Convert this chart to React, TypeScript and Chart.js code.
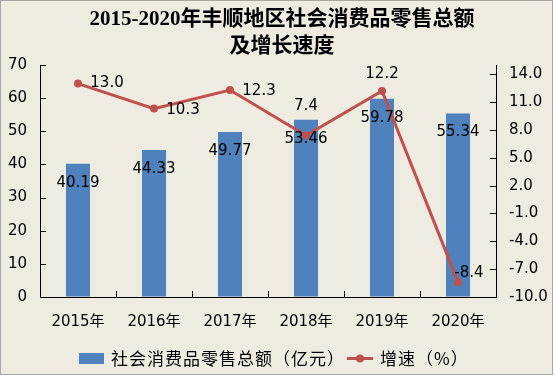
import { useEffect, useRef } from "react";
import { Chart, registerables } from "chart.js";

Chart.register(...registerables);

const categories = ["2015年", "2016年", "2017年", "2018年", "2019年", "2020年"];
const salesValues = [40.19, 44.33, 49.77, 53.46, 59.78, 55.34];
const growthValues = [13.0, 10.3, 12.3, 7.4, 12.2, -8.4];
const leftTicks = [0, 10, 20, 30, 40, 50, 60, 70];
const rightTicks = [-10, -7, -4, -1, 2, 5, 8, 11, 14];
const titleLines = ["2015-2020年丰顺地区社会消费品零售总额", "及增长速度"];
const salesLabel = "社会消费品零售总额（亿元）";
const growthLabel = "增速（%）";

// label placement styles (pixel offsets relative to each point)
const growthLabelOffsets: [number, number][] = [
  [29, 0],
  [29, 1],
  [29, 1],
  [0, -29],
  [0, -17],
  [11, -9],
];
const barLabelDrop = 19;

const BAR_COLOR = "#4F81BD";
const LINE_COLOR = "#C0504D";
const BG = "#EEECE1";
const FONT = "'DejaVu Sans', 'Noto Sans CJK SC', sans-serif";

const decorPlugin = {
  id: "decor",
  beforeDraw(chart: any) {
    const ctx = chart.ctx;
    ctx.save();
    ctx.fillStyle = "#ffffff";
    ctx.fillRect(0, 0, chart.width, chart.height);
    ctx.fillStyle = BG;
    ctx.fillRect(0, 0, 553, 375);
    ctx.strokeStyle = "#A6A6A6";
    ctx.lineWidth = 1;
    ctx.strokeRect(0.5, 0.5, 552, 374);
    ctx.restore();
  },
  afterDraw(chart: any) {
    const ctx = chart.ctx;
    const area = chart.chartArea;
    ctx.save();
    // title
    ctx.fillStyle = "#000";
    ctx.textAlign = "center";
    ctx.textBaseline = "middle";
    ctx.font = "bold 21px 'Liberation Serif', 'Noto Sans CJK SC', serif";
    ctx.fillText(titleLines[0], 282, 20);
    ctx.fillText(titleLines[1], 282, 47);

    // inward tick marks
    ctx.strokeStyle = "#000";
    ctx.lineWidth = 1;
    const yl = chart.scales.y;
    const yr = chart.scales.y1;
    const xs = chart.scales.x;
    ctx.beginPath();
    leftTicks.forEach((v) => {
      const y = Math.round(yl.getPixelForValue(v)) + 0.5;
      ctx.moveTo(area.left, y);
      ctx.lineTo(area.left + 6, y);
    });
    rightTicks.forEach((v) => {
      const y = Math.round(yr.getPixelForValue(v)) + 0.5;
      ctx.moveTo(area.right - 6, y);
      ctx.lineTo(area.right, y);
    });
    for (let i = 1; i < categories.length; i++) {
      const x = Math.round((xs.getPixelForValue(i - 1) + xs.getPixelForValue(i)) / 2) + 0.5;
      ctx.moveTo(x, area.bottom);
      ctx.lineTo(x, area.bottom - 6);
    }
    ctx.stroke();

    // data labels
    ctx.font = `15px ${FONT}`;
    ctx.fillStyle = "#000";
    ctx.textAlign = "center";
    ctx.textBaseline = "middle";
    const barMeta = chart.getDatasetMeta(0);
    barMeta.data.forEach((el: any, i: number) => {
      ctx.fillText(salesValues[i].toFixed(2), el.x, el.y + barLabelDrop);
    });
    const lineMeta = chart.getDatasetMeta(1);
    lineMeta.data.forEach((el: any, i: number) => {
      const [dx, dy] = growthLabelOffsets[i];
      ctx.fillText(growthValues[i].toFixed(1), el.x + dx, el.y + dy);
    });

    // legend
    const ly = 358.5;
    ctx.fillStyle = BAR_COLOR;
    ctx.fillRect(79, 353, 25, 11);
    ctx.font = `17px 'Noto Sans CJK SC', sans-serif`;
    try {
      (ctx as any).letterSpacing = "1px";
    } catch (e) {}
    ctx.fillStyle = "#000";
    ctx.textAlign = "left";
    ctx.fillText(salesLabel, 111, ly);
    ctx.strokeStyle = LINE_COLOR;
    ctx.lineWidth = 3;
    ctx.beginPath();
    ctx.moveTo(347, ly);
    ctx.lineTo(373, ly);
    ctx.stroke();
    ctx.fillStyle = LINE_COLOR;
    ctx.beginPath();
    ctx.arc(360, ly, 4, 0, Math.PI * 2);
    ctx.fill();
    ctx.fillStyle = "#000";
    ctx.fillText(growthLabel, 380, ly);
    try {
      (ctx as any).letterSpacing = "0px";
    } catch (e) {}
    ctx.restore();
  },
};

export default function App() {
  const ref = useRef<HTMLCanvasElement>(null);
  useEffect(() => {
    const chart = new Chart(ref.current!, {
      type: "bar",
      data: {
        labels: categories,
        datasets: [
          {
            type: "bar",
            label: salesLabel,
            data: salesValues,
            backgroundColor: BAR_COLOR,
            borderWidth: 0,
            barPercentage: 0.316,
            categoryPercentage: 1,
            yAxisID: "y",
            order: 1,
          },
          {
            type: "line",
            label: growthLabel,
            data: growthValues,
            borderColor: LINE_COLOR,
            backgroundColor: LINE_COLOR,
            borderWidth: 3,
            pointRadius: 4,
            pointBorderWidth: 0,
            pointBackgroundColor: LINE_COLOR,
            tension: 0,
            yAxisID: "y1",
            order: 0,
          } as any,
        ],
      },
      options: {
        responsive: false,
        animation: false,
        layout: { padding: { top: 65, left: 0, right: 0, bottom: 0 } },
        plugins: {
          legend: { display: false },
          title: { display: false },
          tooltip: { enabled: false },
        },
        scales: {
          x: {
            offset: true,
            grid: { display: true, drawOnChartArea: false, drawTicks: false },
            border: { display: true, color: "#000", width: 1 },
            ticks: {
              color: "#000",
              font: { family: FONT, size: 15 },
              padding: 16,
              maxRotation: 0,
            },
            afterFit: (s: any) => {
              s.height = 81;
            },
          },
          y: {
            position: "left",
            min: 0,
            max: 70,
            grid: { display: true, drawOnChartArea: false, drawTicks: false },
            border: { display: true, color: "#000", width: 1 },
            ticks: {
              stepSize: 10,
              color: "#000",
              font: { family: FONT, size: 15 },
              padding: 13,
            },
            afterBuildTicks: (s: any) => {
              s.ticks = leftTicks.map((v) => ({ value: v }));
            },
            afterFit: (s: any) => {
              s.width = 40;
            },
          },
          y1: {
            position: "right",
            min: -10,
            max: 15,
            grid: { display: true, drawOnChartArea: false, drawTicks: false },
            border: { display: true, color: "#000", width: 1 },
            ticks: {
              color: "#000",
              font: { family: FONT, size: 15 },
              padding: 13,
              callback: (v: any) => Number(v).toFixed(1),
            },
            afterBuildTicks: (s: any) => {
              s.ticks = rightTicks.map((v) => ({ value: v }));
            },
            afterFit: (s: any) => {
              s.width = 60;
            },
          },
        },
      },
      plugins: [decorPlugin],
    });
    return () => chart.destroy();
  }, []);
  return (
    <div style={{ position: "fixed", left: 0, top: 0, width: 556, height: 378 }}>
      <canvas ref={ref} width={556} height={378} style={{ display: "block" }} />
    </div>
  );
}
